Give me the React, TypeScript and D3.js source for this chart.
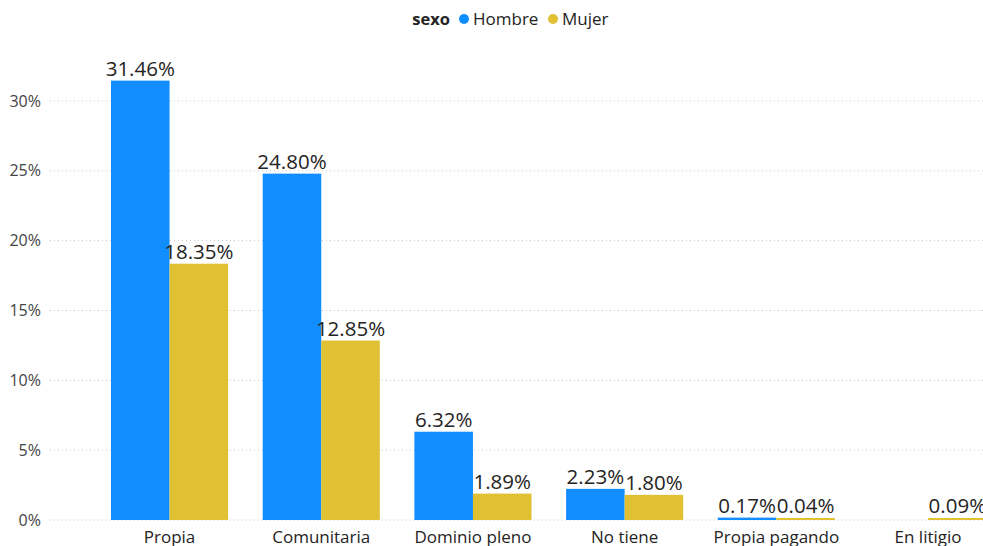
import React from "react";
import * as d3 from "d3";

const categories = ["Propia", "Comunitaria", "Dominio pleno", "No tiene", "Propia pagando", "En litigio"];
const hombre: (number | null)[] = [31.46, 24.8, 6.32, 2.23, 0.17, null];
const mujer: (number | null)[] = [18.35, 12.85, 1.89, 1.8, 0.04, 0.09];
const yTicks = [0, 5, 10, 15, 20, 25, 30];
const seriesNames = ["Hombre", "Mujer"];
const colors = ["#118DFF", "#E0C134"];

const W = 983;
const H = 546;
const FONT = "'Open Sans', 'DejaVu Sans', sans-serif";

export default function App() {
  const y = d3.scaleLinear().domain([0, 30]).range([520, 101]);
  const step = 151.7;
  const x0 = d3
    .scaleBand<string>()
    .domain(categories)
    .range([111 - 0.114 * step, 111 - 0.114 * step + step * 6])
    .paddingInner(0.228)
    .paddingOuter(0.114);
  const x1 = d3.scaleBand<string>().domain(seriesNames).range([0, x0.bandwidth()]);
  const series = [hombre, mujer];

  return (
    <svg
      width={W}
      height={H}
      style={{ position: "absolute", left: 0, top: 0, overflow: "hidden", background: "#fff" }}
      fontFamily={FONT}
    >
      {/* legend */}
      <g>
        <text x={450} y={25} fontSize={16.5} fontWeight="bold" fill="#252423" textAnchor="end">sexo</text>
        <circle cx={464} cy={19} r={5} fill={colors[0]} />
        <text x={473} y={25} fontSize={17} fill="#252423">Hombre</text>
        <circle cx={553} cy={19} r={5} fill={colors[1]} />
        <text x={562} y={25} fontSize={17} fill="#252423">Mujer</text>
      </g>
      {/* grid + ticks */}
      {yTicks.map((t) => (
        <g key={t}>
          <line
            x1={50}
            x2={W}
            y1={y(t)}
            y2={y(t)}
            stroke="#C8C6C4"
            strokeWidth={1}
            strokeDasharray="1 3"
          />
          <text x={41} y={y(t) + 5.5} fontSize={16} textAnchor="end" fill="#444">
            {t}%
          </text>
        </g>
      ))}
      {/* bars */}
      {categories.map((c, i) => (
        <g key={c} transform={`translate(${x0(c)},0)`}>
          {series.map((s, j) => {
            const v = s[i];
            if (v == null) return null;
            const bx = x1(seriesNames[j])!;
            const bw = x1.bandwidth();
            const top = y(v);
            const h = Math.max(y(0) - top, 2);
            return (
              <g key={j}>
                <rect x={bx} y={y(0) - h} width={bw} height={h} fill={colors[j]} />
                <text
                  x={bx + bw / 2}
                  y={y(0) - h - 5}
                  fontSize={20.5}
                  textAnchor="middle"
                  fill="#252423"
                >
                  {v.toFixed(2)}%
                </text>
              </g>
            );
          })}
          <text
            x={x0.bandwidth() / 2}
            y={543}
            fontSize={17}
            textAnchor="middle"
            fill="#252423"
          >
            {c}
          </text>
        </g>
      ))}
    </svg>
  );
}
